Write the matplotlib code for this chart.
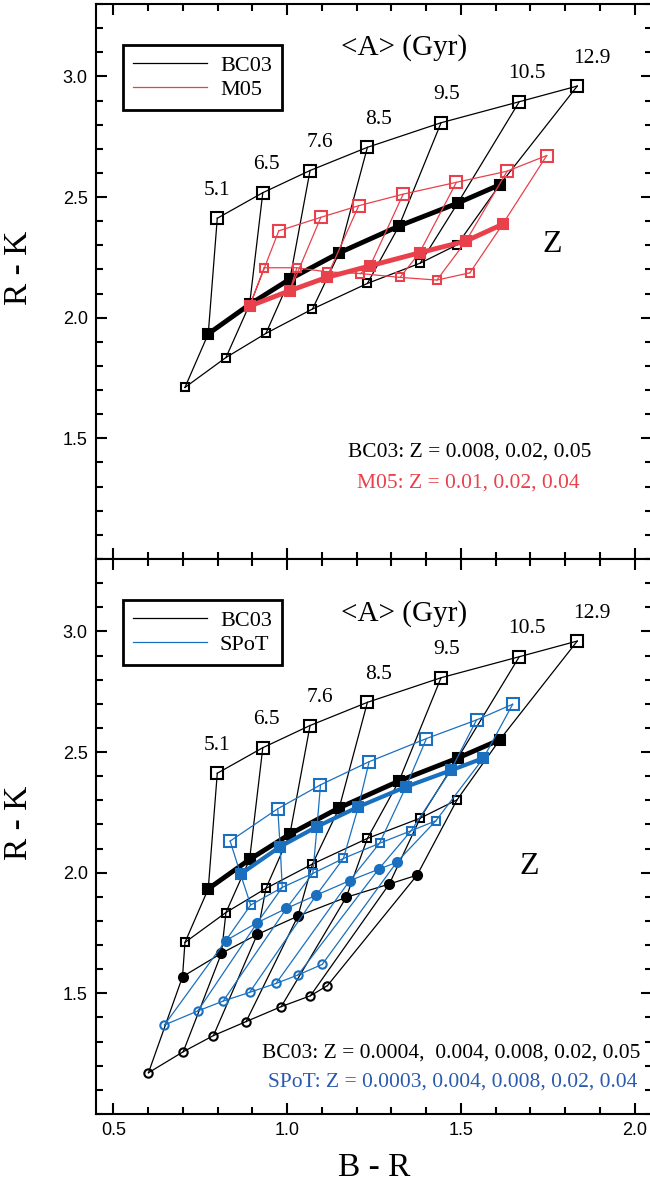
import matplotlib
matplotlib.use('Agg')
import matplotlib.pyplot as plt
from matplotlib.ticker import MultipleLocator, FixedLocator

# ages (Gyr) labelled along the top BC03 sequence
ages = ['5.1', '6.5', '7.6', '8.5', '9.5', '10.5', '12.9']

# BC03 grid: B-R and R-K for each metallicity
bc03_z0004_br = [0.601, 0.701, 0.788, 0.882, 0.983, 1.067, 1.116]
bc03_z0004_rk = [1.171, 1.258, 1.325, 1.383, 1.445, 1.490, 1.532]
bc03_z004_br = [0.699, 0.811, 0.914, 1.031, 1.170, 1.294, 1.374]
bc03_z004_rk = [1.569, 1.666, 1.744, 1.820, 1.898, 1.953, 1.990]
bc03_z008_br = [0.706, 0.824, 0.939, 1.073, 1.231, 1.383, 1.489]
bc03_z008_rk = [1.711, 1.835, 1.935, 2.036, 2.142, 2.226, 2.302]
bc03_z02_br = [0.773, 0.892, 1.008, 1.150, 1.322, 1.491, 1.612]
bc03_z02_rk = [1.933, 2.055, 2.160, 2.269, 2.380, 2.475, 2.551]
bc03_z05_br = [0.799, 0.930, 1.066, 1.231, 1.443, 1.668, 1.835]
bc03_z05_rk = [2.412, 2.518, 2.610, 2.706, 2.808, 2.895, 2.960]

# M05 grid
m05_z001_br = [0.934, 1.028, 1.114, 1.211, 1.325, 1.431, 1.526]
m05_z001_rk = [2.207, 2.207, 2.190, 2.183, 2.167, 2.156, 2.186]
m05_z002_br = [0.892, 1.008, 1.114, 1.239, 1.381, 1.515, 1.620]
m05_z002_rk = [2.048, 2.112, 2.167, 2.215, 2.269, 2.318, 2.387]
m05_z004_br = [0.976, 1.097, 1.206, 1.334, 1.487, 1.633, 1.747]
m05_z004_rk = [2.360, 2.416, 2.464, 2.512, 2.561, 2.607, 2.672]

# SPoT grid
spot_z0003_br = [0.647, 0.743, 0.816, 0.892, 0.968, 1.031, 1.101]
spot_z0003_rk = [1.369, 1.427, 1.468, 1.504, 1.541, 1.576, 1.620]
spot_z004_br = [0.823, 0.914, 0.998, 1.084, 1.180, 1.263, 1.315]
spot_z004_rk = [1.718, 1.793, 1.852, 1.907, 1.967, 2.014, 2.043]
spot_z008_br = [0.895, 0.986, 1.074, 1.162, 1.266, 1.357, 1.428]
spot_z008_rk = [1.866, 1.939, 1.997, 2.059, 2.122, 2.174, 2.215]
spot_z02_br = [0.866, 0.980, 1.086, 1.205, 1.342, 1.471, 1.565]
spot_z02_rk = [1.994, 2.108, 2.191, 2.273, 2.356, 2.424, 2.475]
spot_z04_br = [0.836, 0.973, 1.096, 1.236, 1.401, 1.545, 1.649]
spot_z04_rk = [2.131, 2.265, 2.364, 2.460, 2.556, 2.633, 2.698]

black = 'black'
red = '#e8414b'
blue = '#1a70bf'
blue_txt = '#2a5aae'
serif = 'Liberation Serif'
sans = 'Liberation Sans'

# (marker, size, filled, thick)
sty_circ_o = ('o', 6, False, False)
sty_circ_f = ('o', 6.5, True, False)
sty_sq_s = ('s', 6, False, False)
sty_sq_f = ('s', 7, True, True)
sty_sq_l = ('s', 8.5, False, False)


def draw_grid(ax, seqs, color, thick_lw, zo):
    # age lines first (connect metallicities at fixed age)
    n = len(seqs[0][0])
    for k in range(n):
        xs = [s[0][k] for s in seqs]
        ys = [s[1][k] for s in seqs]
        ax.plot(xs, ys, '-', color=color, lw=0.9, zorder=zo)
    for br, rk, (m, ms, filled, thick) in seqs:
        ax.plot(br, rk, '-', color=color, lw=thick_lw if thick else 0.9,
                marker=m, ms=ms, mew=1.5, mec=color,
                mfc=color if filled else 'none', zorder=zo + 1)


fig = plt.figure(figsize=(6.5, 11.91), dpi=100)
ax_top = fig.add_axes([96/650, 632/1191, 556/650, 555/1191])
ax_bot = fig.add_axes([96/650, 77/1191, 556/650, 555/1191])

bc03_top = [(bc03_z008_br, bc03_z008_rk, sty_sq_s),
            (bc03_z02_br, bc03_z02_rk, sty_sq_f),
            (bc03_z05_br, bc03_z05_rk, sty_sq_l)]
bc03_all = [(bc03_z0004_br, bc03_z0004_rk, sty_circ_o),
            (bc03_z004_br, bc03_z004_rk, sty_circ_f)] + bc03_top
m05 = [(m05_z001_br, m05_z001_rk, sty_sq_s),
       (m05_z002_br, m05_z002_rk, sty_sq_f),
       (m05_z004_br, m05_z004_rk, sty_sq_l)]
spot = [(spot_z0003_br, spot_z0003_rk, sty_circ_o),
        (spot_z004_br, spot_z004_rk, sty_circ_f),
        (spot_z008_br, spot_z008_rk, sty_sq_s),
        (spot_z02_br, spot_z02_rk, sty_sq_f),
        (spot_z04_br, spot_z04_rk, sty_sq_l)]

draw_grid(ax_top, bc03_top, black, 3.5, 3)
draw_grid(ax_top, m05, red, 3.5, 5)
draw_grid(ax_bot, bc03_all, black, 3.5, 3)
draw_grid(ax_bot, spot, blue, 3.0, 5)

label_dx = [0, 4, 10, 11, 6, 8, 15]
for ax, gyr_y, other, ocol in [(ax_top, 3.118, 'M05', red), (ax_bot, 3.075, 'SPoT', blue)]:
    for k, a in enumerate(ages):
        ax.annotate(a, (bc03_z05_br[k], bc03_z05_rk[k]), xytext=(label_dx[k] * 0.72, 20),
                    textcoords='offset points', ha='center', va='center',
                    fontsize=15.5, family=serif)
    ax.text(1.337, gyr_y, '<A> (Gyr)', ha='center', va='center', fontsize=21, family=serif)
    h1, = ax.plot([], [], color=black, lw=0.9, label='BC03')
    h2, = ax.plot([], [], color=ocol, lw=0.9, label=other)
    leg = ax.legend(handles=[h1, h2], loc='upper left', bbox_to_anchor=(0.049, 0.926),
                    borderaxespad=0, fancybox=False, framealpha=1, edgecolor='black',
                    prop={'family': serif, 'size': 16}, handlelength=3.3,
                    labelspacing=0.15, borderpad=0.45, handletextpad=0.6)
    leg.get_frame().set_linewidth(2)

    ax.set_xlim(0.45, 2.05)
    ax.set_ylim(1.0, 3.3)
    ax.xaxis.set_major_locator(MultipleLocator(0.5))
    ax.xaxis.set_minor_locator(MultipleLocator(0.1))
    ax.yaxis.set_major_locator(FixedLocator([1.5, 2.0, 2.5, 3.0]))
    ax.yaxis.set_minor_locator(MultipleLocator(0.1))
    ax.tick_params(which='both', direction='in', top=True, right=True, width=1.5)
    ax.tick_params(which='major', length=8, labelsize=13, pad=6)
    ax.tick_params(which='minor', length=5)
    for lab in ax.get_xticklabels() + ax.get_yticklabels():
        lab.set_family(sans)
    for sp in ax.spines.values():
        sp.set_linewidth(1.5)
    ax.set_ylabel('R - K', fontsize=24, family=serif)
    ax.yaxis.set_label_coords(-0.112, 0.525)

ax_top.tick_params(labelbottom=False)
ax_top.text(1.762, 2.304, 'Z', ha='center', va='center', fontsize=23, family=serif)
ax_top.text(1.525, 1.442, 'BC03: Z = 0.008, 0.02, 0.05', ha='center', va='center',
            fontsize=15.5, family=serif)
ax_top.text(1.522, 1.313, 'M05: Z = 0.01, 0.02, 0.04', ha='center', va='center',
            fontsize=15.5, family=serif, color=red)

ax_bot.text(1.698, 2.026, 'Z', ha='center', va='center', fontsize=23, family=serif)
ax_bot.text(2.017, 1.251, 'BC03: Z = 0.0004,  0.004, 0.008, 0.02, 0.05', ha='right',
            va='center', fontsize=15.5, family=serif)
ax_bot.text(2.008, 1.131, 'SPoT: Z = 0.0003, 0.004, 0.008, 0.02, 0.04', ha='right',
            va='center', fontsize=15.5, family=serif, color=blue_txt)
ax_bot.set_xlabel('B - R', fontsize=24, family=serif)
ax_bot.xaxis.set_label_coords(0.5, -0.07)

plt.savefig('out.png', dpi=100)
